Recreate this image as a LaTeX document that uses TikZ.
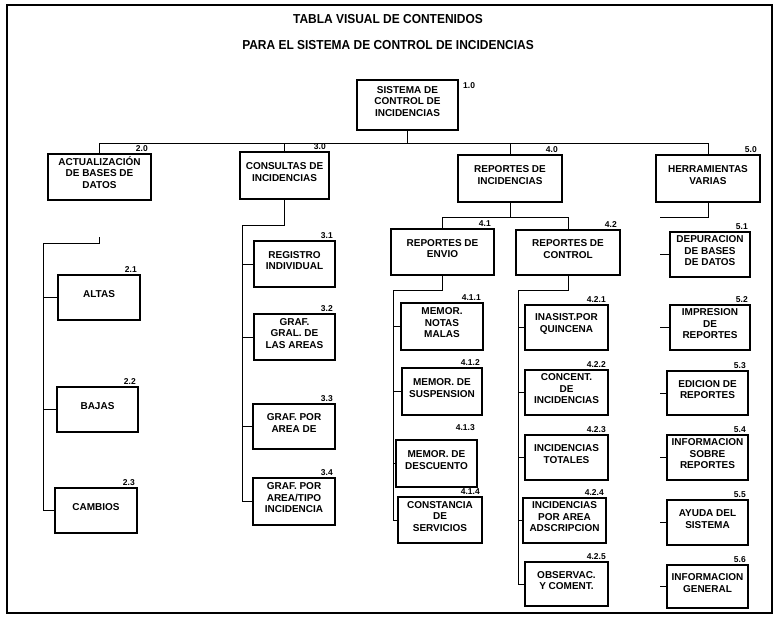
\documentclass[tikz,border=0pt]{standalone}
\usepackage{fontspec}
\setmainfont{Liberation Sans}
\newfontfamily\ttlfont[FakeStretch=0.92]{Liberation Sans}
\usetikzlibrary{fit}
\begin{document}
\begin{tikzpicture}[x=1pt,y=-1pt,
  box/.style={draw, line width=1.6pt, inner sep=0pt, align=center,
    font=\bfseries\fontsize{10}{11.5}\selectfont},
  lbl/.style={font=\bfseries\fontsize{8.5}{9}\selectfont, inner sep=0pt},
  link/.style={line width=0.8pt},
  ttl/.style={font=\ttlfont\bfseries\fontsize{13}{15}\selectfont, inner sep=0pt}]
\useasboundingbox (0,0) rectangle (775,616);
% page frame
\draw[line width=1.2pt] (7,5) rectangle (772,613);

% titles
\node[ttl] (t1) at (388,19) {TABLA VISUAL DE CONTENIDOS};
\node[ttl] (t2) at (388,45) {PARA EL SISTEMA DE CONTROL DE INCIDENCIAS};

% level 1
\node[box, fit={(357,80) (458,130)}] (b1) {SISTEMA DE\\CONTROL DE\\INCIDENCIAS};
\node[lbl, anchor=base west] (l1) at (463,88) {1.0};

% level 2
\node[box, fit={(48,154) (151,200)}] (b2) {ACTUALIZACIÓN\\DE BASES DE\\DATOS};
\node[box, fit={(240,152) (329,199)}] (b3) {CONSULTAS DE\\INCIDENCIAS};
\node[box, fit={(458,155) (562,202)}] (b4) {REPORTES DE\\INCIDENCIAS};
\node[box, fit={(656,155) (760,202)}] (b5) {HERRAMIENTAS\\VARIAS};
\node[lbl, anchor=base east] (l2) at (148,151) {2.0};
\node[lbl, anchor=base east] (l3) at (326,149) {3.0};
\node[lbl, anchor=base east] (l4) at (558,152) {4.0};
\node[lbl, anchor=base east] (l5) at (757,152) {5.0};

% branch 2
\node[box, fit={(58,275) (140,320)}] (a21) {ALTAS};
\node[box, fit={(57,387) (138,432)}] (a22) {BAJAS};
\node[box, fit={(55,488) (137,533)}] (a23) {CAMBIOS};
\node[lbl, anchor=base east] (l21) at (137,272) {2.1};
\node[lbl, anchor=base east] (l22) at (136,384) {2.2};
\node[lbl, anchor=base east] (l23) at (135,485) {2.3};

% branch 3
\node[box, fit={(254,241) (335,287)}] (a31) {REGISTRO\\INDIVIDUAL};
\node[box, fit={(254,314) (335,360)}] (a32) {GRAF.\\GRAL. DE\\LAS AREAS};
\node[box, fit={(253,404) (335,449)}] (a33) {GRAF. POR\\AREA DE};
\node[box, fit={(253,478) (335,525)}] (a34) {GRAF. POR\\AREA/TIPO\\INCIDENCIA};
\node[lbl, anchor=base east] (l31) at (333,238) {3.1};
\node[lbl, anchor=base east] (l32) at (333,311) {3.2};
\node[lbl, anchor=base east] (l33) at (333,401) {3.3};
\node[lbl, anchor=base east] (l34) at (333,475) {3.4};

% branch 4
\node[box, fit={(391,229) (494,275)}] (b41) {REPORTES DE\\ENVIO};
\node[box, fit={(516,230) (620,275)}] (b42) {REPORTES DE\\CONTROL};
\node[lbl, anchor=base east] (l41) at (491,226) {4.1};
\node[lbl, anchor=base east] (l42) at (617,227) {4.2};

\node[box, fit={(401,303) (483,350)}] (c411) {MEMOR.\\NOTAS\\MALAS};
\node[box, fit={(402,368) (482,415)}] (c412) {MEMOR. DE\\SUSPENSION};
\node[box, fit={(396,440) (477,487)}] (c413) {MEMOR. DE\\DESCUENTO};
\node[box, fit={(398,497) (482,543)}] (c414) {CONSTANCIA\\DE\\SERVICIOS};
\node[lbl, anchor=base east] (l411) at (481,300) {4.1.1};
\node[lbl, anchor=base east] (l412) at (480,365) {4.1.2};
\node[lbl, anchor=base east] (l413) at (475,430) {4.1.3};
\node[lbl, anchor=base east] (l414) at (480,494) {4.1.4};

\node[box, fit={(525,305) (608,350)}] (c421) {INASIST.POR\\QUINCENA};
\node[box, fit={(525,370) (608,415)}] (c422) {CONCENT.\\DE\\INCIDENCIAS};
\node[box, fit={(525,435) (608,480)}] (c423) {INCIDENCIAS\\TOTALES};
\node[box, fit={(523,498) (606,543)}] (c424) {INCIDENCIAS\\POR AREA\\ADSCRIPCION};
\node[box, fit={(525,562) (608,606)}] (c425) {OBSERVAC.\\Y COMENT.};
\node[lbl, anchor=base east] (l421) at (606,302) {4.2.1};
\node[lbl, anchor=base east] (l422) at (606,367) {4.2.2};
\node[lbl, anchor=base east] (l423) at (606,432) {4.2.3};
\node[lbl, anchor=base east] (l424) at (604,495) {4.2.4};
\node[lbl, anchor=base east] (l425) at (606,559) {4.2.5};

% branch 5
\node[box, fit={(670,232) (750,277)}] (d51) {DEPURACION\\DE BASES\\DE DATOS};
\node[box, fit={(670,305) (750,350)}] (d52) {IMPRESION\\DE\\REPORTES};
\node[box, fit={(667,371) (748,415)}] (d53) {EDICION DE\\REPORTES};
\node[box, fit={(667,435) (748,480)}] (d54) {INFORMACION\\SOBRE\\REPORTES};
\node[box, fit={(667,500) (748,545)}] (d55) {AYUDA DEL\\SISTEMA};
\node[box, fit={(667,565) (748,608)}] (d56) {INFORMACION\\GENERAL};
\node[lbl, anchor=base east] (l51) at (748,229) {5.1};
\node[lbl, anchor=base east] (l52) at (748,302) {5.2};
\node[lbl, anchor=base east] (l53) at (746,368) {5.3};
\node[lbl, anchor=base east] (l54) at (746,432) {5.4};
\node[lbl, anchor=base east] (l55) at (746,497) {5.5};
\node[lbl, anchor=base east] (l56) at (746,562) {5.6};

% ---- connectors ----
\coordinate (busL) at (100,143);
\coordinate (busR) at (708,143);
\draw[link] (busL) -- (busR);
\draw[link] (b1.south) -- (b1.south |- busL);
\foreach \n in {b2,b3,b4,b5} \draw[link] (\n.north) -- (\n.north |- busL);

% under 2.0
\coordinate (c2) at (99,237);
\coordinate (r2) at (43,243);
\draw[link] (c2) |- (r2) |- (a23.west);
\foreach \n in {a21,a22} \draw[link] (\n.west) -- (\n.west -| r2);

% under 3.0
\coordinate (r3) at (242,225);
\draw[link] (b3.south) |- (r3) |- (a34.west);
\foreach \n in {a31,a32,a33} \draw[link] (\n.west) -- (\n.west -| r3);

% under 4.0
\coordinate (s4) at (508,217);
\draw[link] (b4.south) -- (b4.south |- s4);
\draw[link] (b41.north) |- (b42.north |- s4) -- (b42.north);

\coordinate (r41) at (393,290);
\draw[link] (b41.south) |- (r41) |- (c414.west);
\foreach \n in {c411,c412,c413} \draw[link] (\n.west) -- (\n.west -| r41);

\coordinate (r42) at (518,290);
\draw[link] (b42.south) |- (r42) |- (c425.west);
\foreach \n in {c421,c422,c423,c424} \draw[link] (\n.west) -- (\n.west -| r42);

% under 5.0
\coordinate (r5) at (660,217);
\draw[link] (b5.south) |- (r5);
\foreach \n in {d51,d52,d53,d54,d55,d56} \draw[link] (\n.west) -- (\n.west -| r5);
\end{tikzpicture}
\end{document}
